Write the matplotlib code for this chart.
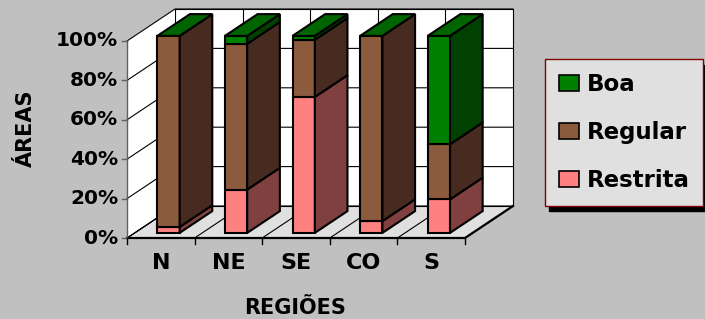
import matplotlib
matplotlib.use('Agg')
import matplotlib.pyplot as plt
from matplotlib.patches import Polygon, Patch
from matplotlib.lines import Line2D

categories = ['N', 'NE', 'SE', 'CO', 'S']
series_names = ['Restrita', 'Regular', 'Boa']
restrita = [3, 22, 69, 6, 17]
regular = [97, 74, 29, 94, 28]
boa = [0, 4, 2, 0, 55]
y_ticks = [0, 20, 40, 60, 80, 100]
y_tick_labels = ['0%', '20%', '40%', '60%', '80%', '100%']
x_title = 'REGIÕES'
y_title = 'ÁREAS'

front_colors = ['#FF8080', '#8C5A3C', '#008000']
side_colors = ['#804040', '#472B20', '#004000']
top_colors = ['#FF8080', '#8C5A3C', '#006400']

W, H = 705, 319
fig = plt.figure(figsize=(W / 100, H / 100), dpi=100, facecolor='#C0C0C0')
ax = fig.add_axes([127 / W, (H - 238) / H, 338 / W, 197 / H])
n = len(categories)
ax.set_xlim(0, n)
ax.set_ylim(0, 100)
ax.axis('off')

px_x = 338 / n      # pixels per category unit
px_y = 197 / 100    # pixels per percent
KX = 48 / px_x      # depth offset in x data units
KY = 32 / px_y      # depth offset in y data units


def P(x, y, d):
    return (x + d * KX, y + d * KY)


def poly(pts, fc, ec='black', lw=0.8, z=1):
    ax.add_patch(Polygon(pts, closed=True, facecolor=fc, edgecolor=ec,
                         linewidth=lw, zorder=z, clip_on=False, joinstyle='miter'))


def line(pts, color='black', lw=0.8, z=2):
    xs = [p[0] for p in pts]
    ys = [p[1] for p in pts]
    ax.add_line(Line2D(xs, ys, color=color, linewidth=lw, zorder=z, clip_on=False))


# walls and floor
poly([P(0, 0, 0), P(n, 0, 0), P(n, 0, 1), P(0, 0, 1)], '#E0E0E0', lw=0.8, z=1)
poly([P(0, 0, 1), P(n, 0, 1), P(n, 100, 1), P(0, 100, 1)], 'white', lw=0.8, z=1)
poly([P(0, 0, 0), P(0, 0, 1), P(0, 100, 1), P(0, 100, 0)], 'white', ec='none', z=1)

for t in y_ticks:
    line([P(0, t, 0), P(0, t, 1), P(n, t, 1)])
for i in range(n + 1):
    line([P(i, 0, 0), P(i, 0, 1)])
    if 0 < i < n:
        line([P(i, 0, 1), P(i, 100, 1)])
line([P(0, 0, 0), P(n, 0, 0), P(n, 0, 1)], lw=1.6, z=3)

# axes lines, ticks
line([P(0, 0, 0), P(0, 100, 0)], color='#606060', lw=1.0, z=3)
tick_x = 5 / px_x
for t, lab in zip(y_ticks, y_tick_labels):
    line([(-tick_x, t), (0, t)], color='#606060', lw=1.0, z=3)
    ax.text(-9 / px_x, t, lab, ha='right', va='center', fontsize=14.5,
            fontweight='bold', color='black')
tick_y = 6 / px_y
for i in range(n + 1):
    line([(i, 0), (i, -tick_y)], color='black', lw=1.0, z=3)
for i, c in enumerate(categories):
    ax.text(i + 0.5, -25 / px_y, c, ha='center', va='center', fontsize=16,
            fontweight='bold', color='black')

# bars
series = [restrita, regular, boa]
d0, d1 = 0.16, 0.84
bw = 0.33
for i in range(n):
    x0 = i + 0.5 - bw / 2
    x1 = i + 0.5 + bw / 2
    base = 0
    for s, vals in enumerate(series):
        v = vals[i]
        top = base + v
        if v > 0:
            poly([P(x0, base, d0), P(x1, base, d0), P(x1, top, d0), P(x0, top, d0)],
                 front_colors[s], lw=1.5, z=5)
            poly([P(x1, base, d0), P(x1, base, d1), P(x1, top, d1), P(x1, top, d0)],
                 side_colors[s], lw=1.5, z=5)
        base = top
    poly([P(x0, base, d0), P(x1, base, d0), P(x1, base, d1), P(x0, base, d1)],
         top_colors[-1], lw=1.5, z=5)

# titles
fig.text(295 / W, 1 - 308 / H, x_title, ha='center', va='center', fontsize=15,
         fontweight='bold')
fig.text(26 / W, 1 - 128 / H, y_title, ha='center', va='center', fontsize=15,
         fontweight='bold', rotation=90)

# legend
handles = [Patch(facecolor=front_colors[s], edgecolor='black', linewidth=1.2)
           for s in reversed(range(len(series_names)))]
labels = list(reversed(series_names))
leg = fig.legend(handles, labels, loc='upper left',
                 bbox_to_anchor=(545 / W, 1 - 59 / H), bbox_transform=fig.transFigure,
                 frameon=True, fancybox=False, facecolor='#E0E0E0', edgecolor='#800000',
                 framealpha=1, prop={'weight': 'bold', 'size': 16.5},
                 handlelength=0.87, handleheight=0.73, handletextpad=0.34,
                 labelspacing=1.1, borderaxespad=0, borderpad=0.6,
                 shadow={'ox': 3, 'oy': -4, 'color': 'black', 'alpha': 1})
leg.get_frame().set_linewidth(1.0)

fig.savefig('out.png', dpi=100, facecolor=fig.get_facecolor())
